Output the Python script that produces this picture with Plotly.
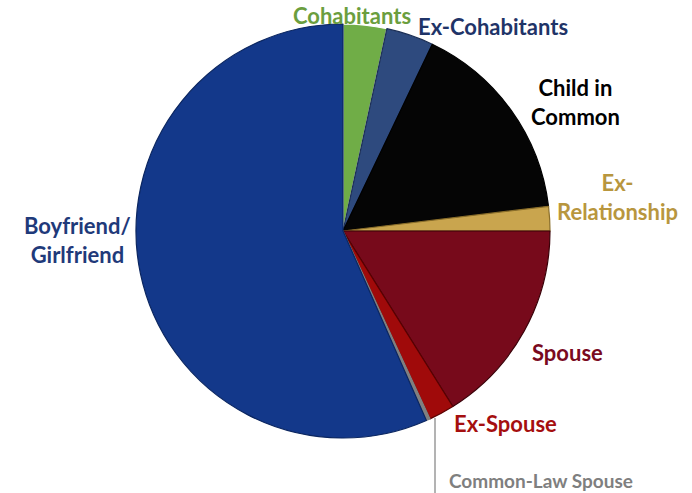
import plotly.graph_objects as go

W, H = 692, 493

labels = ["Cohabitants", "Ex-Cohabitants", "Child in Common", "Ex-Relationship",
          "Spouse", "Ex-Spouse", "Common-Law Spouse", "Boyfriend/Girlfriend"]
values = [3.4, 3.7, 16.0, 1.9, 16.1, 2.0, 0.3, 56.6]
slice_colors = ["#70AD47", "#2E4A7E", "#050505", "#C9A54E",
                "#770A1B", "#A00A0A", "#808080", "#13388A"]
line_colors = ["#FFFFFF", "#1C2F55", "#000000", "#8A6E2A",
               "#3A0008", "#5A0000", "#808080", "#0B2660"]

label_texts = ["Cohabitants", "Ex-Cohabitants", "Child in<br>Common", "Ex-<br>Relationship",
               "Spouse", "Ex-Spouse", "Common-Law Spouse", "Boyfriend/<br>Girlfriend"]
label_colors = ["#6B9E3E", "#1F3468", "#000000", "#B8963E",
                "#7A0A1E", "#A50F0F", "#7F7F7F", "#1F3A7A"]
label_sizes = [22, 22, 22, 22, 22, 22, 19, 22]
label_px = [(352, 15), (493, 27), (575, 102), (617, 197),
            (567, 352), (505, 423), (541, 480), (77, 240)]

cx, cy, r = 343, 231, 207

fig = go.Figure(go.Pie(
    labels=labels, values=values, sort=False, direction="clockwise", rotation=0,
    marker=dict(colors=slice_colors, line=dict(color=line_colors, width=1.2)),
    textinfo="none", hoverinfo="label+percent", showlegend=False,
    domain=dict(x=[(cx - r) / W, (cx + r) / W], y=[(H - cy - r) / H, (H - cy + r) / H]),
))

for t, c, s, (x, y) in zip(label_texts, label_colors, label_sizes, label_px):
    fig.add_annotation(x=x / W, y=1 - y / H, xref="paper", yref="paper", text="<b>" + t + "</b>",
                       showarrow=False, font=dict(family="Lato, Open Sans, sans-serif", size=s, color=c),
                       xanchor="center", yanchor="middle", align="center")

fig.add_shape(type="line", xref="paper", yref="paper",
              x0=435 / W, x1=435 / W, y0=1 - 418 / H, y1=0,
              line=dict(color="#9A9A9A", width=1.5))

fig.update_layout(width=W, height=H, margin=dict(l=0, r=0, t=0, b=0),
                  paper_bgcolor="white", plot_bgcolor="white")
fig.write_html("out.html", config={"displayModeBar": False},
               post_script="document.body.style.margin='0';")
